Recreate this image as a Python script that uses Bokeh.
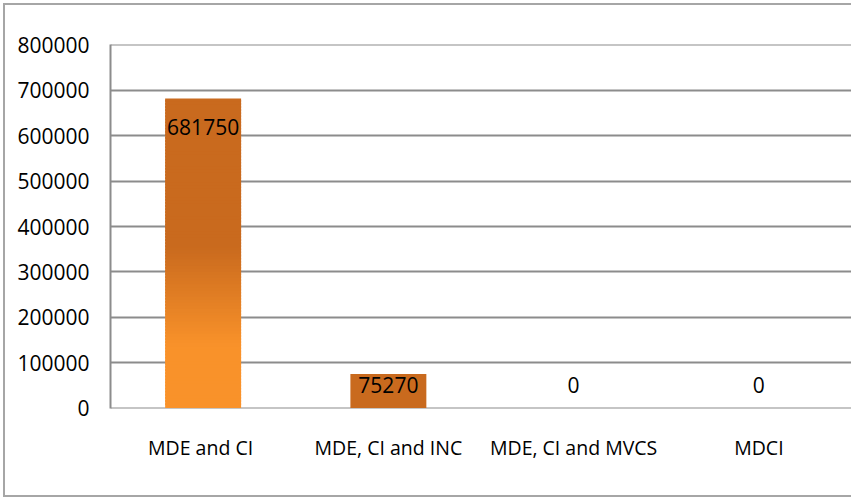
from bokeh.plotting import figure
from bokeh.models import ColumnDataSource, FactorRange, Range1d, FixedTicker, NumeralTickFormatter
from bokeh.core.properties import value
from bokeh.embed import file_html
from bokeh.resources import INLINE

categories = ["MDE and  CI", "MDE, CI and INC", "MDE, CI and MVCS", "MDCI"]
values = [681750, 75270, 0, 0]
y_ticks = [0, 100000, 200000, 300000, 400000, 500000, 600000, 700000, 800000]

FONT = "Open Sans"
NUM_FS = "21px"
CAT_FS = "19.5px"
DARK = (201, 106, 30)
LIGHT = (249, 146, 42)
BAR_W = 0.41
W, H = 851, 499

p = figure(x_range=FactorRange(*categories, range_padding=0), y_range=Range1d(-900, 800900),
           width=W, height=H, output_backend="svg", toolbar_location=None,
           min_border_left=110, min_border_right=0, min_border_top=44, min_border_bottom=91)
p.outline_line_color = None
p.background_fill_color = "white"
p.border_fill_color = None

# outer chart border (left, top, bottom) drawn behind the transparent border area
line = "linear-gradient(#a6a6a6,#a6a6a6)"
p.styles = {
    "background": (f"{line} 3px 3px / 2px {H - 5}px no-repeat, "
                   f"{line} 3px 3px / {W}px 2px no-repeat, "
                   f"{line} 3px {H - 4}px / {W}px 2px no-repeat, white"),
}

def mix(c1, c2, t):
    return "#%02x%02x%02x" % tuple(int(round(a + (b - a) * t)) for a, b in zip(c1, c2))

# gradient for the tall bar, built as thin slices of its value
xs, bots, tops, cols = [], [], [], []
N = 100
plain_x, plain_top = [], []
for cat, v in zip(categories, values):
    if v <= 0:
        continue
    if v > 300000:
        for i in range(N):
            f0, f1 = i / N, (i + 1) / N
            fm = (f0 + f1) / 2
            if fm < 0.2:
                t = 0.0
            elif fm < 0.52:
                t = (fm - 0.2) / 0.32
            else:
                t = 1.0
            xs.append(cat); bots.append(v * f0); tops.append(min(v, v * f1 + v * 0.006)); cols.append(mix(LIGHT, DARK, t))
    else:
        plain_x.append(cat); plain_top.append(v)

src = ColumnDataSource(dict(x=xs, bottom=bots, top=tops, color=cols))
p.vbar(x="x", bottom="bottom", top="top", width=BAR_W, source=src, fill_color="color", line_color=None)
p.vbar(x=plain_x, top=plain_top, bottom=0, width=BAR_W, fill_color=mix(DARK, DARK, 0), line_color=None)

# data labels
big = [v > 300000 for v in values]
lab_src = ColumnDataSource(dict(x=categories, y=[v if b else 0 for v, b in zip(values, big)],
                                text=[str(v) for v in values],
                                off=[28 if b else -23 for b in big]))
p.text(x="x", y="y", text="text", y_offset="off", source=lab_src, text_align="center",
       text_baseline="middle", text_font=value(FONT), text_font_size=NUM_FS, text_color="black")

p.yaxis.ticker = FixedTicker(ticks=y_ticks)
p.yaxis.formatter = NumeralTickFormatter(format="0")
p.yaxis.major_tick_line_color = None
p.yaxis.minor_tick_line_color = None
p.yaxis.axis_line_color = "#8c8c8c"
p.yaxis.axis_line_width = 2
p.yaxis.major_label_text_font = FONT
p.yaxis.major_label_text_font_size = NUM_FS
p.yaxis.major_label_text_color = "black"
p.yaxis.major_label_standoff = 15

p.xaxis.axis_line_color = None
p.xaxis.major_tick_line_color = None
p.xaxis.major_label_text_font = FONT
p.xaxis.major_label_text_font_size = CAT_FS
p.xaxis.major_label_text_color = "black"
p.xaxis.major_label_standoff = 19

p.xgrid.grid_line_color = None
p.ygrid.grid_line_color = "#8c8c8c"
p.ygrid.grid_line_width = 2
p.ygrid.level = "underlay"

open("out.html", "w").write(file_html(p, INLINE))
